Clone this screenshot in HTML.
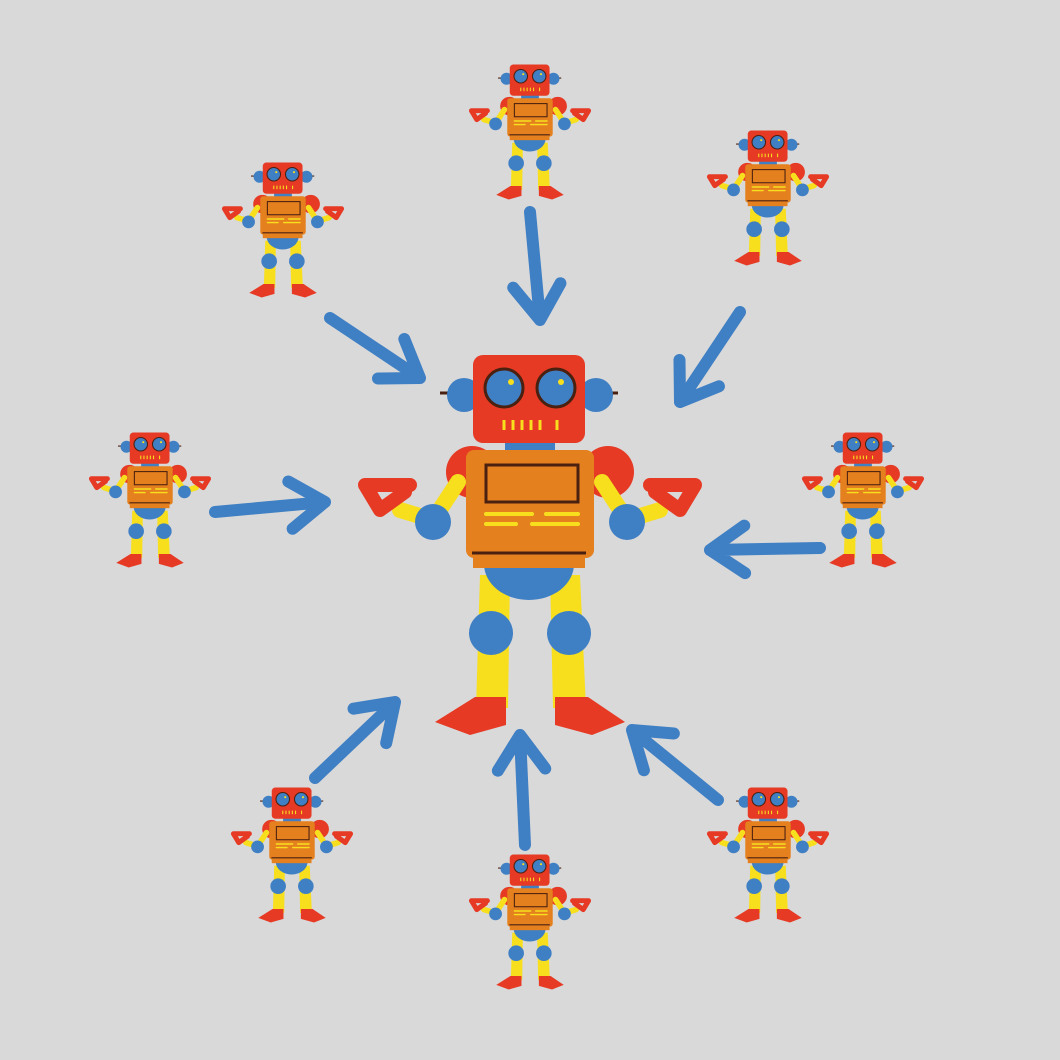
<!DOCTYPE html>
<html><head><meta charset="utf-8"><style>html,body{margin:0;padding:0;background:#d9d9d9;}svg{display:block}</style></head>
<body>
<svg id="scene" width="1060" height="1060" viewBox="0 0 1060 1060" xmlns="http://www.w3.org/2000/svg">
<rect width="1060" height="1060" fill="#d9d9d9"/>
<defs>
<g id="robot">
  <line x1="440" y1="393" x2="618" y2="393" stroke="#4a2010" stroke-width="3"/>
  <circle cx="464" cy="395" r="17" fill="#3f7fc4"/>
  <circle cx="596" cy="395" r="17" fill="#3f7fc4"/>
  <rect x="505" y="438" width="50" height="14" fill="#3f7fc4"/>
  <rect x="473" y="355" width="112" height="88" rx="10" fill="#e63a25"/>
  <circle cx="504" cy="388" r="19" fill="#3f7fc4" stroke="#4a2010" stroke-width="3"/>
  <circle cx="556" cy="388" r="19" fill="#3f7fc4" stroke="#4a2010" stroke-width="3"/>
  <circle cx="511" cy="382" r="3" fill="#f7df1e"/>
  <circle cx="561" cy="382" r="3" fill="#f7df1e"/>
  <g stroke="#f7df1e" stroke-width="3">
    <line x1="504" y1="420" x2="504" y2="430"/><line x1="513" y1="420" x2="513" y2="430"/>
    <line x1="522" y1="420" x2="522" y2="430"/><line x1="531" y1="420" x2="531" y2="430"/>
    <line x1="540" y1="420" x2="540" y2="430"/><line x1="557" y1="420" x2="557" y2="430"/>
  </g>
  <circle cx="472" cy="472" r="26" fill="#e63a25"/>
  <circle cx="608" cy="472" r="26" fill="#e63a25"/>
  <g stroke="#f7df1e" stroke-width="16" stroke-linecap="round" fill="none">
    <polyline points="458,482 433,520 400,510"/>
    <polyline points="602,482 627,520 660,510"/>
  </g>
  <circle cx="433" cy="522" r="18" fill="#3f7fc4"/>
  <circle cx="627" cy="522" r="18" fill="#3f7fc4"/>
  <g stroke="#e63a25" stroke-width="14" stroke-linejoin="round" stroke-linecap="round" fill="none">
    <polyline points="410,485 365,485 380,510 405,492"/>
    <polyline points="650,485 695,485 680,510 655,492"/>
  </g>
  <path d="M480,575 L510,575 L508,708 L476,708 Z" fill="#f7df1e"/>
  <path d="M550,575 L580,575 L586,708 L553,708 Z" fill="#f7df1e"/>
  <path d="M484,564 A45,36 0 0 0 574,564 Z" fill="#3f7fc4"/>
  <rect x="466" y="450" width="128" height="108" rx="8" fill="#e5801f"/>
  <rect x="473" y="550" width="112" height="18" fill="#e5801f"/>
  <line x1="472" y1="553" x2="586" y2="553" stroke="#4a2010" stroke-width="3"/>
  <rect x="486" y="465" width="92" height="37" fill="none" stroke="#4a2010" stroke-width="3"/>
  <g stroke="#f7df1e" stroke-width="4" stroke-linecap="round">
    <line x1="486" y1="514" x2="532" y2="514"/><line x1="546" y1="514" x2="578" y2="514"/>
    <line x1="486" y1="524" x2="516" y2="524"/><line x1="532" y1="524" x2="578" y2="524"/>
  </g>
  <circle cx="491" cy="633" r="22" fill="#3f7fc4"/>
  <circle cx="569" cy="633" r="22" fill="#3f7fc4"/>
  <path d="M435,722 L475,697 L506,697 L506,725 L470,735 Z" fill="#e63a25"/>
  <path d="M625,722 L588,697 L555,697 L555,725 L592,735 Z" fill="#e63a25"/>
</g>
</defs>
<use href="#robot"/>
<g id="smalls"></g>
<g id="arrows"></g>
</svg>
<script>
const smallCenters = [[530,132],[283,230],[768,198],[150,500],[863,500],[292,855],[530,922],[768,855]];
const arrowLines = [[530,212,540,320],[330,318,420,378],[740,312,680,402],[215,512,325,502],[820,548,710,550],[315,778,395,702],[525,845,520,735],[718,800,632,730]];
const NS="http://www.w3.org/2000/svg";
const sg=document.getElementById('smalls');
smallCenters.forEach((c,i)=>{
  const u=document.createElementNS(NS,'use');
  u.setAttribute('href','#robot');
  u.setAttribute('transform',`translate(${c[0]},${c[1]}) scale(0.355) translate(-530,-545)`);
  
  
  sg.appendChild(u);
});
const ag=document.getElementById('arrows');
arrowLines.forEach(a=>{
  const [x1,y1,x2,y2]=a;
  const ang=Math.atan2(y2-y1,x2-x1), L=42, s=0.6;
  const hx1=x2-L*Math.cos(ang-s), hy1=y2-L*Math.sin(ang-s);
  const hx2=x2-L*Math.cos(ang+s), hy2=y2-L*Math.sin(ang+s);
  const p=document.createElementNS(NS,'path');
  p.setAttribute('d',`M${x1},${y1} L${x2},${y2} M${hx1},${hy1} L${x2},${y2} L${hx2},${hy2}`);
  p.setAttribute('stroke','#3f7fc4');p.setAttribute('stroke-width','12');
  p.setAttribute('stroke-linecap','round');p.setAttribute('stroke-linejoin','round');p.setAttribute('fill','none');
  
  
  ag.appendChild(p);
});
</script>
</body></html>
